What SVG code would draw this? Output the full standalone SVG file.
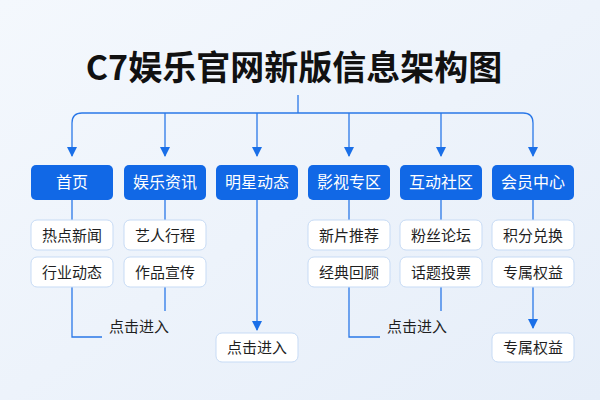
<svg xmlns="http://www.w3.org/2000/svg" width="600" height="400" viewBox="0 0 600 400">
<defs>
<linearGradient id="bg" x1="0" y1="0" x2="1" y2="1"><stop offset="0" stop-color="#f4f8fd"/><stop offset="1" stop-color="#e6eef9"/></linearGradient>
<marker id="ah" viewBox="0 0 10 10" refX="9" refY="5" markerWidth="10" markerHeight="10" markerUnits="userSpaceOnUse" orient="auto"><path d="M0,0L10,5L0,10z" fill="#1a6fe8"/></marker>
<style>
.t{font-family:"Noto Sans CJK SC","Noto Sans",sans-serif;text-anchor:middle}
.m rect{fill:#1168e6;rx:5}
.m text{fill:#fff;font-size:16px}
.s rect{fill:#fff;stroke:#c7dbf5;stroke-width:1;rx:6}
.s text{fill:#1f1f1f;font-size:15px}
.c path{fill:none;stroke:#2a78e8;stroke-width:1.3}
</style>
</defs>
<rect width="600" height="400" fill="url(#bg)"/>
<text class="t" x="294" y="80" font-size="34" font-weight="bold" fill="#111">C7娱乐官网新版信息架构图</text>
<g class="c">
<path d="M298,95V113"/>
<path d="M72,123Q72,113 82,113H523Q533,113 533,123V156" marker-end="url(#ah)"/>
<path d="M72,123V156" marker-end="url(#ah)"/>
<path d="M165,113V156" marker-end="url(#ah)"/>
<path d="M257,113V156" marker-end="url(#ah)"/>
<path d="M349,113V156" marker-end="url(#ah)"/>
<path d="M441,113V156" marker-end="url(#ah)"/>
<path d="M72,200V220M165,200V220M349,200V220M441,200V220M533,200V220"/>
<path d="M72,287V337H102"/>
<path d="M165,287V311"/>
<path d="M257,200V330" marker-end="url(#ah)"/>
<path d="M349,287V337H380"/>
<path d="M441,287V311"/>
<path d="M533,287V328" marker-end="url(#ah)"/>
</g>
<g class="t">
<g id="n1" class="m"><rect x="31" y="165" width="82" height="35"/><text x="72" y="188">首页</text></g>
<g id="n2" class="m"><rect x="124" y="165" width="82" height="35"/><text x="165" y="188">娱乐资讯</text></g>
<g id="n3" class="m"><rect x="216" y="165" width="82" height="35"/><text x="257" y="188">明星动态</text></g>
<g id="n4" class="m"><rect x="308" y="165" width="82" height="35"/><text x="349" y="188">影视专区</text></g>
<g id="n5" class="m"><rect x="400" y="165" width="82" height="35"/><text x="441" y="188">互动社区</text></g>
<g id="n6" class="m"><rect x="492" y="165" width="82" height="35"/><text x="533" y="188">会员中心</text></g>
<g id="s1a" class="s"><rect x="31" y="220" width="82" height="30"/><text x="72" y="240.5">热点新闻</text></g>
<g id="s1b" class="s"><rect x="31" y="257" width="82" height="30"/><text x="72" y="277.5">行业动态</text></g>
<g id="s2a" class="s"><rect x="124" y="220" width="82" height="30"/><text x="165" y="240.5">艺人行程</text></g>
<g id="s2b" class="s"><rect x="124" y="257" width="82" height="30"/><text x="165" y="277.5">作品宣传</text></g>
<g id="s4a" class="s"><rect x="308" y="220" width="82" height="30"/><text x="349" y="240.5">新片推荐</text></g>
<g id="s4b" class="s"><rect x="308" y="257" width="82" height="30"/><text x="349" y="277.5">经典回顾</text></g>
<g id="s5a" class="s"><rect x="400" y="220" width="82" height="30"/><text x="441" y="240.5">粉丝论坛</text></g>
<g id="s5b" class="s"><rect x="400" y="257" width="82" height="30"/><text x="441" y="277.5">话题投票</text></g>
<g id="s6a" class="s"><rect x="492" y="220" width="82" height="30"/><text x="533" y="240.5">积分兑换</text></g>
<g id="s6b" class="s"><rect x="492" y="257" width="82" height="30"/><text x="533" y="277.5">专属权益</text></g>
<g id="s3c" class="s"><rect x="216" y="333" width="82" height="29"/><text x="257" y="353">点击进入</text></g>
<g id="s6c" class="s"><rect x="492" y="333" width="82" height="29"/><text x="533" y="353">专属权益</text></g>
<text x="139" y="332" font-size="15" fill="#1f1f1f">点击进入</text>
<text x="417" y="332" font-size="15" fill="#1f1f1f">点击进入</text>
</g>
</svg>
